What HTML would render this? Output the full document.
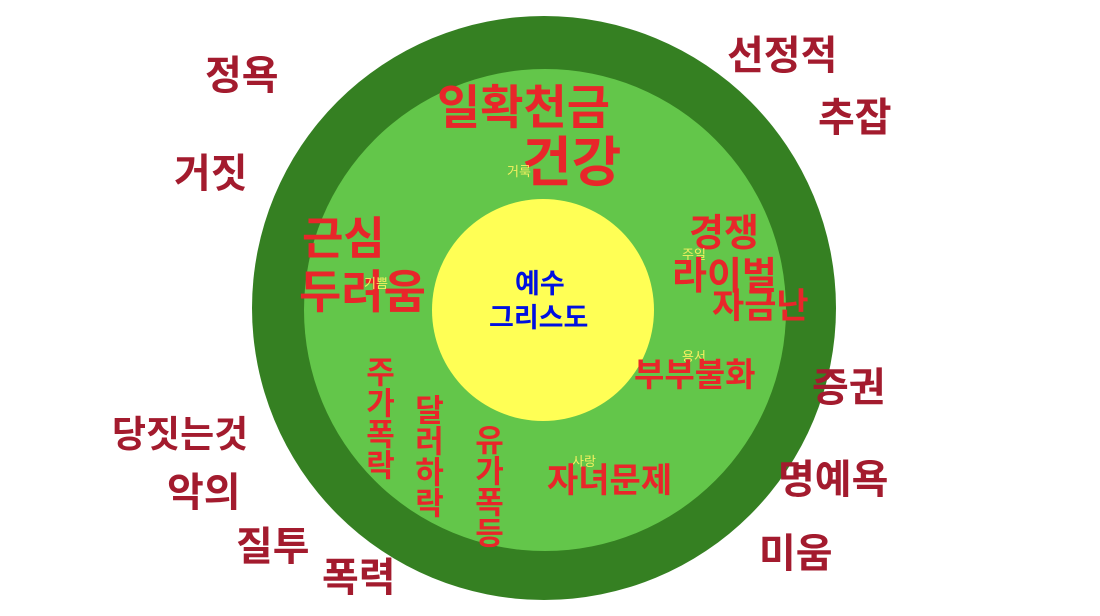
<!DOCTYPE html>
<html><head><meta charset="utf-8"><style>
html,body{margin:0;padding:0;background:#fff;}
#c{position:relative;width:1100px;height:616px;overflow:hidden;font-family:"Liberation Sans","Noto Sans CJK KR","NanumGothic",sans-serif;font-weight:bold;}
.t{position:absolute;line-height:1;white-space:nowrap;}
.o{color:#a31b2e;font-size:40px;}
.r{color:#e8262a;}
.y{color:#f4f060;font-size:13px;font-weight:normal;}
.v{writing-mode:vertical-rl;text-orientation:upright;letter-spacing:0px;}
</style></head><body><div id="c">
<svg width="1100" height="616" style="position:absolute;left:0;top:0">
<circle cx="544" cy="308" r="292" fill="#358022"/>
<circle cx="545" cy="310" r="241" fill="#63c64a"/>
<circle cx="543" cy="310" r="111" fill="#ffff55"/>
</svg>
<div class="t o" style="left:205px;top:56px">정욕</div>
<div class="t o" style="left:174px;top:154px">거짓</div>
<div class="t o" style="left:727px;top:36px">선정적</div>
<div class="t o" style="left:818px;top:98px">추잡</div>
<div class="t o" style="left:812px;top:368px">증권</div>
<div class="t o" style="left:778px;top:460px">명예욕</div>
<div class="t o" style="left:759px;top:534px">미움</div>
<div class="t o" style="left:112px;top:416px;font-size:37px">당짓는것</div>
<div class="t o" style="left:167px;top:473px">악의</div>
<div class="t o" style="left:236px;top:527px">질투</div>
<div class="t o" style="left:322px;top:558px">폭력</div>

<div class="t r" style="left:437px;top:84px;font-size:47px">일확천금</div>
<div class="t r" style="left:522px;top:136px;font-size:54px">건강</div>
<div class="t y" style="left:507px;top:165px">거룩</div>
<div class="t r" style="left:302px;top:216px;font-size:45px">근심</div>
<div class="t r" style="left:299px;top:269px;font-size:46px">두려움</div>
<div class="t y" style="left:364px;top:277px">기쁨</div>
<div class="t r" style="left:689px;top:215px;font-size:38px">경쟁</div>
<div class="t y" style="left:682px;top:248px">주일</div>
<div class="t r" style="left:672px;top:258px;font-size:38px">라이벌</div>
<div class="t r" style="left:712px;top:289px;font-size:35px">자금난</div>
<div class="t" style="left:515px;top:271px;font-size:27px;color:#0010e0">예수</div>
<div class="t" style="left:489px;top:305px;font-size:27px;color:#0010e0">그리스도</div>
<div class="t y" style="left:682px;top:350px">용서</div>
<div class="t r" style="left:634px;top:358px;font-size:33px">부부불화</div>
<div class="t r v" style="left:362px;top:356px;font-size:31px">주가폭락</div>
<div class="t r v" style="left:411px;top:394px;font-size:31px">달러하락</div>
<div class="t r v" style="left:471px;top:424px;font-size:31px">유가폭등</div>
<div class="t y" style="left:572px;top:455px">사랑</div>
<div class="t r" style="left:547px;top:464px;font-size:34px">자녀문제</div>
</div></body></html>
